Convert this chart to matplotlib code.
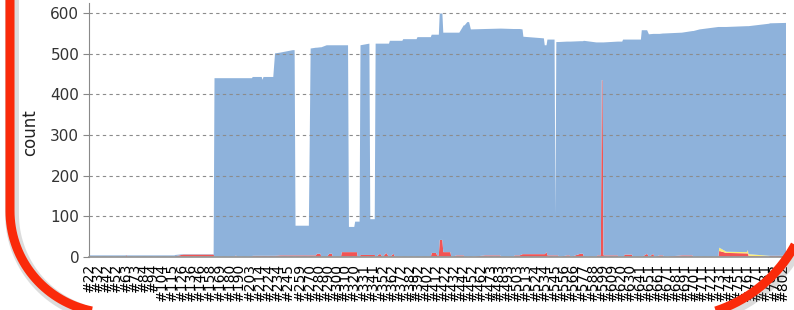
import numpy as np
import matplotlib
matplotlib.use("Agg")
import matplotlib.pyplot as plt

### test trend data (breakpoints) ###
builds = [22, 63, 64, 65, 118, 119, 128, 162, 163, 186, 187, 188, 205, 206, 216, 217, 218, 229,
          231, 237, 251, 253, 254, 269, 271, 277, 278, 282, 283, 289, 292, 295, 296, 305, 306,
          313, 314, 320, 321, 323, 324, 326, 327, 337, 338, 343, 344, 349, 352, 356, 359, 360,
          364, 366, 374, 375, 390, 391, 406, 407, 412, 413, 415, 416, 419, 420, 428, 429, 435,
          438, 443, 444, 447, 449, 451, 467, 484, 485, 499, 500, 506, 509, 510, 533, 534, 536,
          537, 545, 546, 547, 549, 550, 559, 562, 563, 574, 577, 578, 592, 593, 597, 598, 599,
          600, 616, 617, 621, 622, 624, 632, 633, 642, 643, 649, 651, 656, 657, 663, 667, 668,
          688, 700, 701, 708, 729, 730, 738, 761, 762, 763, 786, 787, 805]
failed = [0, 0, 5, 0, 0, 2, 6, 6, 0, 0, 5, 0, 0, 3, 3, 3, 3, 3,
          3, 4, 4, 4, 4, 4, 4, 4, 8, 8, 0, 0, 8, 8, 0, 0, 12,
          12, 12, 12, 12, 12, 0, 0, 5, 5, 5, 5, 0, 8, 0, 10, 0, 0,
          8, 0, 0, 0, 0, 0, 0, 10, 10, 4, 4, 42, 42, 12, 12, 0, 4,
          4, 4, 0, 0, 0, 0, 4, 4, 0, 0, 4, 4, 7, 7, 7, 7, 12,
          4, 4, 4, 4, 4, 0, 4, 4, 0, 8, 8, 0, 0, 4, 4, 435, 435,
          4, 4, 0, 0, 0, 6, 6, 0, 0, 0, 8, 0, 8, 0, 4, 4, 0,
          4, 4, 0, 0, 0, 15, 10, 9, 9, 3, 1, 3, 3]
skipped = [0] * 125 + [8, 3, 3, 8, 4, 2, 0, 0]
passed = [4, 4, 0, 4, 4, 3, 1, 1, 440, 440, 435, 440, 440, 440, 440, 433, 440, 440,
          498, 499, 505, 505, 73, 73, 509, 511, 507, 508, 516, 521, 513, 513, 521, 521, 509,
          509, 62, 62, 75, 75, 87, 87, 516, 520, 88, 88, 525, 517, 525, 515, 525, 532,
          524, 532, 532, 536, 536, 541, 541, 537, 537, 543, 543, 557, 557, 540, 540, 552, 548,
          548, 566, 570, 578, 578, 560, 557, 558, 562, 561, 557, 557, 553, 535, 531, 514, 509,
          531, 531, 99, 525, 525, 529, 526, 526, 530, 523, 523, 532, 528, 524, 524, 93, 93,
          524, 526, 530, 530, 535, 529, 529, 535, 535, 558, 550, 548, 541, 549, 545, 546, 550,
          548, 552, 556, 560, 566, 543, 553, 556, 551, 561, 571, 572, 573]

tick_builds = [22, 32, 42, 52, 63, 73, 84, 94, 104, 115, 126, 136, 146, 158, 169, 180, 190,
               203, 214, 224, 234, 245, 259, 270, 280, 290, 300, 310, 320, 331, 341, 352, 362,
               372, 382, 392, 402, 412, 422, 432, 442, 452, 462, 473, 483, 493, 503, 513, 524,
               534, 545, 556, 566, 577, 588, 599, 609, 620, 630, 641, 651, 661, 671, 681, 691,
               701, 711, 721, 731, 741, 751, 761, 771, 781, 792, 802]

### plot ###
fig = plt.figure(figsize=(7.94, 3.10), dpi=100)
ax = fig.add_axes([89/794, 53/310, 697/794, 254/310])
ax.stackplot(builds, failed, skipped, passed,
             colors=['#F25454', '#FDED72', '#8EB2DB'], lw=0)
ax.set_xlim(22, 805)
ax.set_ylim(0, 625)
ax.set_yticks(range(0, 700, 100))
ax.yaxis.grid(True, linestyle=(0, (3, 3)), color='#8c8c8c', lw=0.8)
ax.set_axisbelow(False)
ax.set_xticks(tick_builds)
ax.set_xticklabels(['#%d' % b for b in tick_builds], rotation=90, fontsize=10, va='top')
ax.tick_params(axis='x', length=0, pad=4)
ax.tick_params(axis='y', length=4, color='#888888', labelsize=11, labelcolor='#333333', pad=3)
for s in ['top', 'right']:
    ax.spines[s].set_visible(False)
ax.spines['left'].set_color('#8a8a8a')
ax.spines['bottom'].set_color('#9a9a9a')
ax.spines['bottom'].set_linewidth(1.3)
ax.set_ylabel('count', fontsize=12, color='#222222')
ax.yaxis.set_label_coords(-0.071, 0.49)

### red highlight frame, drawn in pixel coords ###
ov = fig.add_axes([0, 0, 1, 1], zorder=10)
ov.set_xlim(0, 794)
ov.set_ylim(310, 0)
ov.axis('off')
ov.patch.set_alpha(0)
t1 = np.linspace(np.pi, np.pi/2, 40)
t2 = np.linspace(np.pi/2, 0, 40)
xs = np.concatenate([[10], 112 + 102*np.cos(t1), 672 + 140*np.cos(t2), [812]])
ys = np.concatenate([[-20], 211 + 102*np.sin(t1), 178 + 140*np.sin(t2), [-20]])
ov.plot(xs + 2, ys + 3, color='#777777', lw=10, alpha=0.25, solid_capstyle='butt')
ov.plot(xs, ys, color='#FA2A0A', lw=6.5, solid_capstyle='butt')

fig.savefig('out.png', dpi=100)
